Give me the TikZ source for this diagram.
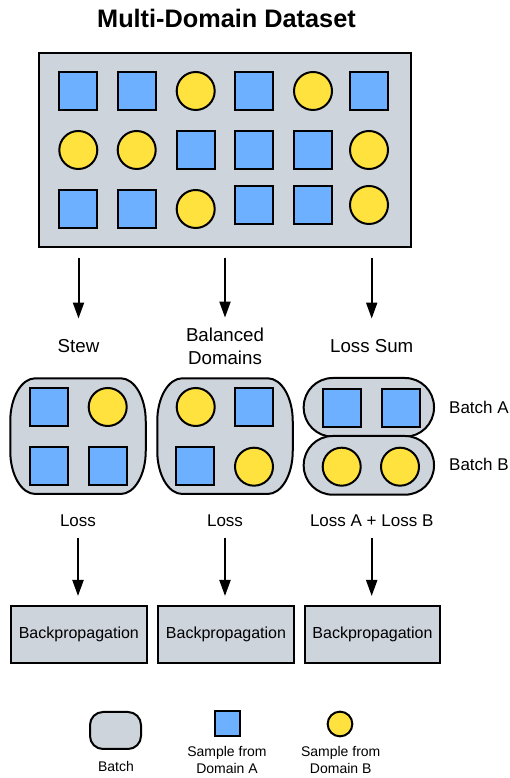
\documentclass[tikz,border=0pt]{standalone}
\usepackage{fontspec}
\setmainfont{Liberation Sans}
\usetikzlibrary{arrows.meta}

\definecolor{batchgray}{RGB}{206,212,220}
\definecolor{domainblue}{RGB}{108,176,255}
\definecolor{domainyellow}{RGB}{255,226,61}

% Outline of a batch with elliptical corners, drawn round an empty frame node
% #1 frame node, #2 horizontal corner radius, #3 vertical corner radius
\newcommand\softbatch[3]{%
  \draw[outline, fill=batchgray]
    ([xshift=#2]#1.north west) -- ([xshift=-#2]#1.north east)
    arc[start angle=90, end angle=0, x radius=#2, y radius=#3]
    -- ([yshift=#3]#1.south east)
    arc[start angle=0, end angle=-90, x radius=#2, y radius=#3]
    -- ([xshift=#2]#1.south west)
    arc[start angle=270, end angle=180, x radius=#2, y radius=#3]
    -- ([yshift=-#3]#1.north west)
    arc[start angle=180, end angle=90, x radius=#2, y radius=#3]
    -- cycle;}

\tikzset{
  outline/.style={draw=black, line width=2pt},
  sampleA/.style={outline, fill=domainblue, rectangle, minimum size=38pt, inner sep=0pt},
  sampleB/.style={outline, fill=domainyellow, circle, minimum size=38pt, inner sep=0pt},
  frame/.style={rectangle, inner sep=0pt, outer sep=0pt, minimum width=135.5pt, minimum height=115.7pt},
  pill/.style={outline, fill=batchgray, rectangle, rounded corners=29pt, minimum width=130.3pt, minimum height=58.7pt, inner sep=0pt},
  backprop/.style={outline, fill=batchgray, minimum width=135.7pt, minimum height=57.3pt, inner sep=0pt, font=\fontsize{16}{19}\selectfont},
  flow/.style={line width=2pt, -{Triangle[width=11pt, length=16pt]}},
  method/.style={inner sep=0pt, font=\fontsize{18.7}{22.7}\selectfont, align=center},
  note/.style={inner sep=0pt, font=\fontsize{17}{20}\selectfont},
  legendtext/.style={inner sep=0pt, font=\fontsize{14}{17.3}\selectfont, align=center},
}

\begin{document}
\begin{tikzpicture}[x=1pt, y=1pt]
\useasboundingbox (0,0) rectangle (510,778);

% Title and the full dataset
\node[anchor=base, font=\fontsize{25.3}{30}\selectfont\bfseries] (title) at (226.5,750) {Multi-Domain Dataset};
\node[outline, fill=batchgray, minimum width=371.5pt, minimum height=193.5pt, inner sep=0pt] (data) at (224.75,627.8) {};

\node[sampleA] (d11) at (78.3,687) {};
\node[sampleA] (d12) at (136.7,687) {};
\node[sampleB] (d13) at (195.7,687) {};
\node[sampleA] (d14) at (254,687) {};
\node[sampleB] (d15) at (313,687) {};
\node[sampleA] (d16) at (369,687) {};

\node[sampleB] (d21) at (78.3,628) {};
\node[sampleB] (d22) at (136.7,628) {};
\node[sampleA] (d23) at (195.7,628) {};
\node[sampleA] (d24) at (254,628) {};
\node[sampleA] (d25) at (313,628) {};
\node[sampleB] (d26) at (369,628) {};

\node[sampleA] (d31) at (78.3,569) {};
\node[sampleA] (d32) at (136.7,569) {};
\node[sampleB] (d33) at (195.7,569) {};
\node[sampleA] (d34) at (254,573) {};
\node[sampleA] (d35) at (313,573) {};
\node[sampleB] (d36) at (369,573) {};

% Sampling strategies
\node[method, anchor=base] (stew) at (78.5,425.7) {Stew};
\node[method] (balanced) at (225,431.5) {Balanced\\Domains};
\node[method, anchor=base] (losssum) at (371.7,425.7) {Loss Sum};

\draw[flow, shorten <=10pt, shorten >=20.5pt] (data.south -| stew) -- (stew.north);
\draw[flow, shorten <=10pt, shorten >=10.5pt] (data.south -| balanced) -- (balanced.north);
\draw[flow, shorten <=10pt, shorten >=20.5pt] (data.south -| losssum) -- (losssum.north);

% Stew batch
\node[frame] (stewbatch) at (78,341.85) {};
\softbatch{stewbatch}{25pt}{43pt}
\node[sampleA] (s1) at (49,371) {};
\node[sampleB] (s2) at (107.7,371) {};
\node[sampleA] (s3) at (49,312) {};
\node[sampleA] (s4) at (107.5,312) {};

% Balanced batch
\node[frame] (balbatch) at (225,341.85) {};
\softbatch{balbatch}{25pt}{43pt}
\node[sampleB] (b1) at (195.7,371) {};
\node[sampleA] (b2) at (254,371) {};
\node[sampleA] (b3) at (195.3,312) {};
\node[sampleB] (b4) at (254,311.3) {};

% Loss-sum batches, one per domain
\node[pill] (batchA) at (368.85,370.65) {};
\node[pill] (batchB) at (368.85,312.65) {};
\node[sampleA] (la1) at (342,370) {};
\node[sampleA] (la2) at (401,370) {};
\node[sampleB] (lb1) at (341.7,311.3) {};
\node[sampleB] (lb2) at (400,311.3) {};
\node[note, anchor=base west] (labelA) at (449,364.7) {Batch A};
\node[note, anchor=base west] (labelB) at (449,307.3) {Batch B};

% Losses and backpropagation
\node[note, anchor=base] (loss1) at (78,251.3) {Loss};
\node[note, anchor=base] (loss2) at (225,251.3) {Loss};
\node[note, anchor=base] (loss3) at (371.7,251.3) {Loss A + Loss B};

\node[backprop] (bp1) at (78.85,143.35) {Backpropagation};
\node[backprop] (bp2) at (226,143.35) {Backpropagation};
\node[backprop] (bp3) at (372.5,143.35) {Backpropagation};

\draw[flow, shorten <=11pt, shorten >=9pt] (loss1.south) -- (loss1.south |- bp1.north);
\draw[flow, shorten <=11pt, shorten >=9pt] (loss2.south) -- (loss2.south |- bp2.north);
\draw[flow, shorten <=11pt, shorten >=9pt] (loss3.south) -- (loss3.south |- bp3.north);

% Legend
\node[outline, fill=batchgray, rounded corners=13pt, minimum width=51pt, minimum height=37pt, inner sep=0pt] (keybatch) at (115.5,47.5) {};
\node[legendtext, anchor=base] (keybatchtext) at (116,6.5) {Batch};
\node[sampleA, minimum size=24.7pt] (keyA) at (227.3,54.3) {};
\node[legendtext] (keyAtext) at (227,17.75) {Sample from\\Domain A};
\node[sampleB, minimum size=24.7pt] (keyB) at (340,54) {};
\node[legendtext] (keyBtext) at (340.7,17.75) {Sample from\\Domain B};
\end{tikzpicture}
\end{document}
